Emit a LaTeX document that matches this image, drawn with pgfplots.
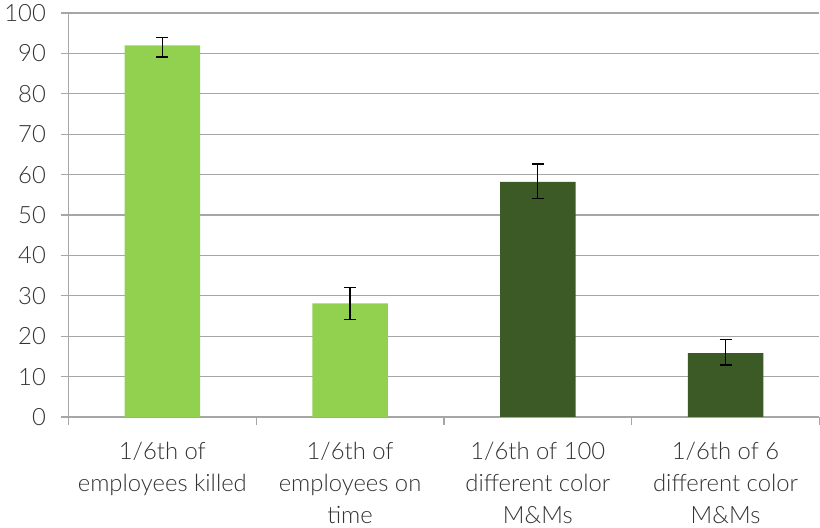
\documentclass[border=0pt]{standalone}
\usepackage{pgfplots}
\pgfplotsset{compat=1.18}
\usepackage{fontspec}
\setmainfont{Lato Light}
\definecolor{lightg}{HTML}{92D050}
\definecolor{darkg}{HTML}{3B5A26}
\definecolor{gridg}{HTML}{A6A6A6}
\definecolor{txt}{HTML}{333333}

% x y plus minus
\pgfplotstableread{
x y ep em
0 92.0 1.9 2.9
1 28.1 3.9 3.95
}\lightdata
\pgfplotstableread{
x y ep em
2 58.2 4.45 4.15
3 15.8 3.4 2.95
}\darkdata

\begin{document}
\begin{tikzpicture}
\begin{axis}[
  width=567pt, height=305pt, scale only axis,
  xmin=-0.5, xmax=3.5, ymin=0, ymax=100,
  axis x line*=bottom, axis y line*=left,
  axis line style={gridg, line width=0.9pt, -},
  ytick={0,10,...,100},
  xtick={0,1,2,3},
  xticklabels={{1/6th of\\employees killed},{1/6th of\\employees on\\time},{1/6th of 100\\different color\\M\&Ms},{1/6th of 6\\different color\\M\&Ms}},
  minor xtick={-0.5,0.5,1.5,2.5,3.5},
  major x tick style={draw=none},
  minor x tick style={gridg, line width=0.9pt},
  y tick style={gridg, line width=0.9pt},
  tick align=outside,
  major tick length=5.5pt, minor tick length=6pt,
  ymajorgrids, grid style={gridg, line width=0.9pt},
  /pgf/number format/assume math mode=true,
  ticklabel style={font={\fontsize{18}{24}\selectfont}, text=txt},
  xticklabel style={align=center, yshift=-10pt},
  yticklabel style={xshift=-8pt},
  ybar, bar width=57pt, bar shift=0pt,
  clip=false,
]
\addplot[draw=none, fill=lightg,
  error bars/.cd, y dir=both, y explicit,
  error bar style={black, line width=1pt},
  error mark options={rotate=90, black, line width=1pt, mark size=4.5pt}]
  table[x=x, y=y, y error plus=ep, y error minus=em]{\lightdata};
\addplot[draw=none, fill=darkg,
  error bars/.cd, y dir=both, y explicit,
  error bar style={black, line width=1pt},
  error mark options={rotate=90, black, line width=1pt, mark size=4.5pt}]
  table[x=x, y=y, y error plus=ep, y error minus=em]{\darkdata};
\end{axis}
\end{tikzpicture}
\end{document}
